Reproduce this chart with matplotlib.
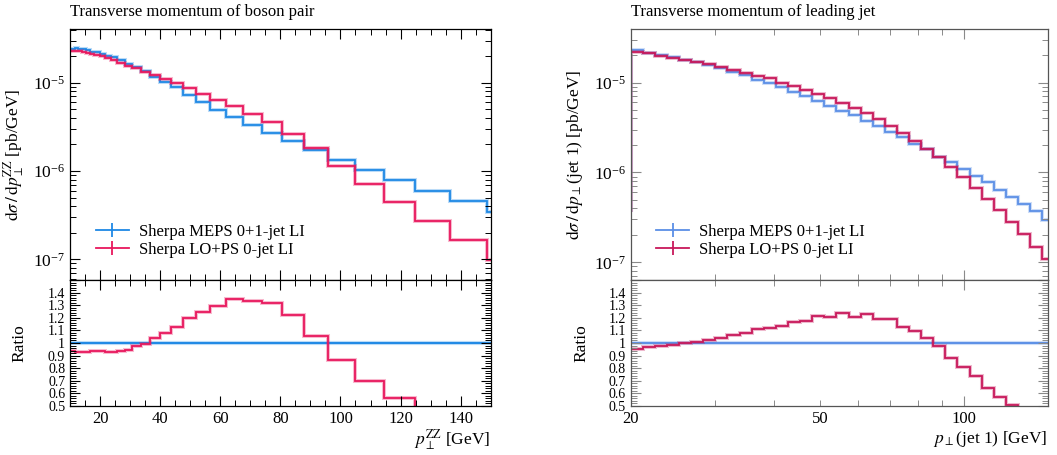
import numpy as np
import matplotlib
matplotlib.use("Agg")
import matplotlib.pyplot as plt
from matplotlib.lines import Line2D
from matplotlib.ticker import MultipleLocator, FixedLocator, FuncFormatter, LogLocator, NullFormatter

plt.rcParams['font.family'] = ['Liberation Serif', 'DejaVu Serif']
plt.rcParams['mathtext.fontset'] = 'stix'

# ---------------- data: left panel (pT of ZZ pair) ----------------
zz_edges = [9.83, 10.73, 11.71, 12.78, 13.95, 15.23, 16.63, 18.15, 19.82, 21.63, 23.61,
            25.78, 28.14, 30.71, 33.53, 36.6, 39.95, 43.61, 47.61, 51.97, 56.73, 61.93,
            67.6, 73.79, 80.55, 87.93, 95.99, 104.78, 114.38, 124.86, 136.3, 148.8, 162.4]
zz_meps = [2.42e-5, 2.42e-5, 2.44e-5, 2.43e-5, 2.38e-5, 2.32e-5, 2.25e-5, 2.20e-5, 2.12e-5,
           2.03e-5, 1.93e-5, 1.80e-5, 1.64e-5, 1.49e-5, 1.34e-5, 1.17e-5, 1.03e-5, 8.83e-6,
           7.30e-6, 6.03e-6, 4.93e-6, 4.07e-6, 3.34e-6, 2.69e-6, 2.16e-6, 1.72e-6, 1.32e-6,
           1.03e-6, 7.88e-7, 5.98e-7, 4.53e-7, 3.40e-7]
zz_lops = [2.26e-5, 2.26e-5, 2.28e-5, 2.27e-5, 2.22e-5, 2.16e-5, 2.10e-5, 2.06e-5, 1.99e-5,
           1.89e-5, 1.80e-5, 1.69e-5, 1.56e-5, 1.46e-5, 1.335e-5, 1.21e-5, 1.11e-5, 9.97e-6,
           8.73e-6, 7.52e-6, 6.37e-6, 5.49e-6, 4.44e-6, 3.55e-6, 2.64e-6, 1.81e-6, 1.14e-6,
           7.16e-7, 4.42e-7, 2.72e-7, 1.66e-7, 9.9e-8]
zz_ratio = [0.94, 0.94, 0.932, 0.932, 0.932, 0.932, 0.937, 0.937, 0.937, 0.929, 0.929, 0.94,
            0.948, 0.98, 0.996, 1.036, 1.081, 1.129, 1.196, 1.247, 1.292, 1.348, 1.33, 1.318,
            1.222, 1.052, 0.863, 0.695, 0.561, 0.455, 0.366, 0.29]

# ---------------- data: right panel (pT of leading jet) ----------------
jet_edges = [18.86, 20.0, 21.2, 22.48, 23.83, 25.27, 26.79, 28.4, 30.11, 31.92, 33.85, 35.89,
             38.05, 40.34, 42.77, 45.34, 48.08, 50.97, 54.04, 57.29, 60.74, 64.4, 68.27,
             72.39, 76.74, 81.37, 86.27, 91.46, 96.96, 102.8, 109.0, 115.6, 122.6, 130.0,
             137.8, 146.1, 154.9]
jet_meps = [3.8e-7, 2.30e-5, 2.15e-5, 2.03e-5, 1.93e-5, 1.80e-5, 1.71e-5, 1.57e-5, 1.44e-5,
            1.31e-5, 1.20e-5, 1.07e-5, 9.93e-6, 8.89e-6, 7.83e-6, 7.0e-6, 6.16e-6, 5.52e-6,
            4.85e-6, 4.35e-6, 3.74e-6, 3.26e-6, 2.79e-6, 2.46e-6, 2.08e-6, 1.80e-6, 1.50e-6,
            1.31e-6, 1.09e-6, 9.03e-7, 7.82e-7, 6.43e-7, 5.33e-7, 4.43e-7, 3.70e-7, 2.99e-7]
jet_lops = [3.8e-7, 2.20e-5, 2.12e-5, 1.99e-5, 1.89e-5, 1.80e-5, 1.71e-5, 1.60e-5, 1.49e-5,
            1.39e-5, 1.29e-5, 1.19e-5, 1.12e-5, 1.0e-5, 9.19e-6, 8.36e-6, 7.49e-6, 6.71e-6,
            5.91e-6, 5.15e-6, 4.54e-6, 3.89e-6, 3.31e-6, 2.75e-6, 2.26e-6, 1.83e-6, 1.48e-6,
            1.16e-6, 8.87e-7, 6.76e-7, 5.06e-7, 3.79e-7, 2.82e-7, 2.06e-7, 1.49e-7, 1.08e-7]
jet_ratio = [0.956, 0.967, 0.975, 0.985, 1.001, 1.007, 1.023, 1.041, 1.063, 1.081, 1.111,
             1.116, 1.137, 1.169, 1.175, 1.217, 1.207, 1.237, 1.204, 1.228, 1.191, 1.188,
             1.127, 1.095, 1.036, 0.975, 0.881, 0.812, 0.737, 0.644, 0.575, 0.511, 0.465,
             0.40, 0.36]

labels = ["Sherpa MEPS 0+1-jet LI", "Sherpa LO+PS 0-jet LI"]

W, H = 1057, 455
fig = plt.figure(figsize=(W / 100, H / 100), dpi=100)
TICK_FS = 12
RATIO_FS = 10


def frac(x0, x1, ytop, ybot):
    return [x0 / W, 1 - ybot / H, (x1 - x0) / W, (ybot - ytop) / H]


def hist(ax, edges, vals, color, lw=1.3):
    ax.stairs(vals, edges, color=color, lw=lw + 1.6, alpha=0.3, baseline=None)
    ax.stairs(vals, edges, color=color, lw=lw, baseline=None)


def style(ax, tcol, scol):
    ax.tick_params(which='both', direction='in', top=True, right=True, colors=tcol,
                   labelcolor='black', labelsize=TICK_FS)
    ax.tick_params(which='major', length=7, width=0.8)
    ax.tick_params(which='minor', length=4, width=0.7)
    for s in ax.spines.values():
        s.set_color(scol)
        s.set_linewidth(0.9)


ratio_fmt = FuncFormatter(lambda v, p: '' if v > 1.45 else f'{v:g}')


def panel(x0, x1, edges, meps, lops, ratio, c_meps, c_lops, ylim, title, ylab, xlab,
          tcol, scol, ylab_x, rlab_x, ratio_edges):
    axm = fig.add_axes(frac(x0, x1, 29, 280))
    axr = fig.add_axes(frac(x0, x1, 280, 406), sharex=axm)
    hist(axm, edges, meps, c_meps)
    hist(axm, edges, lops, c_lops)
    axm.set_yscale('log')
    axm.set_ylim(*ylim)
    axm.yaxis.set_major_locator(LogLocator(base=10, numticks=10))
    axm.yaxis.set_minor_locator(LogLocator(base=10, subs=np.arange(2, 10), numticks=20))
    axm.yaxis.set_minor_formatter(NullFormatter())
    axm.tick_params(labelbottom=False)
    style(axm, tcol, scol)
    axm.tick_params(axis='y', labelsize=12.5)
    axm.text(0.0, 1.068, title, transform=axm.transAxes, ha='left', va='center', fontsize=12)
    axm.set_ylabel(ylab, fontsize=12.5)
    axm.yaxis.set_label_coords(ylab_x, 0.5)

    handles = [Line2D([], [], color=c, lw=1.3, marker='|', markersize=10, mew=1.3)
               for c in (c_meps, c_lops)]
    axm.legend(handles, labels, loc='lower left', bbox_to_anchor=(0.045, 0.06),
               frameon=False, fontsize=12, handlelength=2.0, handletextpad=0.6,
               labelspacing=0.12, borderaxespad=0.0)

    meps_r = np.array(meps[-len(ratio):]) / np.array(meps[-len(ratio):])
    hist(axr, ratio_edges, meps_r, c_meps, lw=1.4)
    hist(axr, ratio_edges, ratio, c_lops)
    axr.set_ylim(0.5, 1.5)
    axr.yaxis.set_major_locator(MultipleLocator(0.1))
    axr.yaxis.set_minor_locator(MultipleLocator(0.02))
    axr.yaxis.set_major_formatter(ratio_fmt)
    style(axr, tcol, scol)
    axr.tick_params(axis='y', labelsize=RATIO_FS)
    axr.set_ylabel('Ratio', fontsize=12.5)
    axr.yaxis.set_label_coords(rlab_x, 0.5)
    axr.text(1.0, -0.265, xlab, transform=axr.transAxes, ha='right', va='center', fontsize=12.5)
    return axm, axr


axm, axr = panel(70, 490.7, zz_edges, zz_meps, zz_lops, zz_ratio, '#1e88e5', '#e8175d',
                 (10 ** -7.234, 10 ** -4.392), 'Transverse momentum of boson pair',
                 r'$\mathrm{d}\sigma\,/\,\mathrm{d}p_\perp^{\mathrm{ZZ}}$ [pb/GeV]',
                 r'$p_\perp^{\mathrm{ZZ}}$ [GeV]', 'black', 'black', -0.105, -0.10,
                 zz_edges)
axr.set_xlim(10, 150)
axr.xaxis.set_major_locator(MultipleLocator(20))
axr.xaxis.set_minor_locator(MultipleLocator(5))

axm2, axr2 = panel(630.7, 1047.7, jet_edges, jet_meps, jet_lops, jet_ratio, '#5b8fe6', '#c8185a',
                   (10 ** -7.196, 10 ** -4.405), 'Transverse momentum of leading jet',
                   r'$\mathrm{d}\sigma\,/\,\mathrm{d}p_\perp$(jet 1) [pb/GeV]',
                   r'$p_\perp$(jet 1) [GeV]', '#8a8a8a', '#555555', -0.11, -0.098,
                   jet_edges[1:])
axm2.set_xscale('log')
axr2.set_xlim(20, 150)
axr2.xaxis.set_major_locator(FixedLocator([100]))
axr2.xaxis.set_minor_locator(FixedLocator([20, 30, 40, 50, 60, 70, 80, 90]))
axr2.xaxis.set_major_formatter(FuncFormatter(lambda v, p: f'{v:g}'))
axr2.xaxis.set_minor_formatter(FuncFormatter(lambda v, p: f'{v:g}' if v in (20, 50) else ''))
axr2.tick_params(axis='x', which='minor', labelsize=TICK_FS)
axm2.tick_params(which='both', labelbottom=False)

fig.savefig('out.png', dpi=100)
